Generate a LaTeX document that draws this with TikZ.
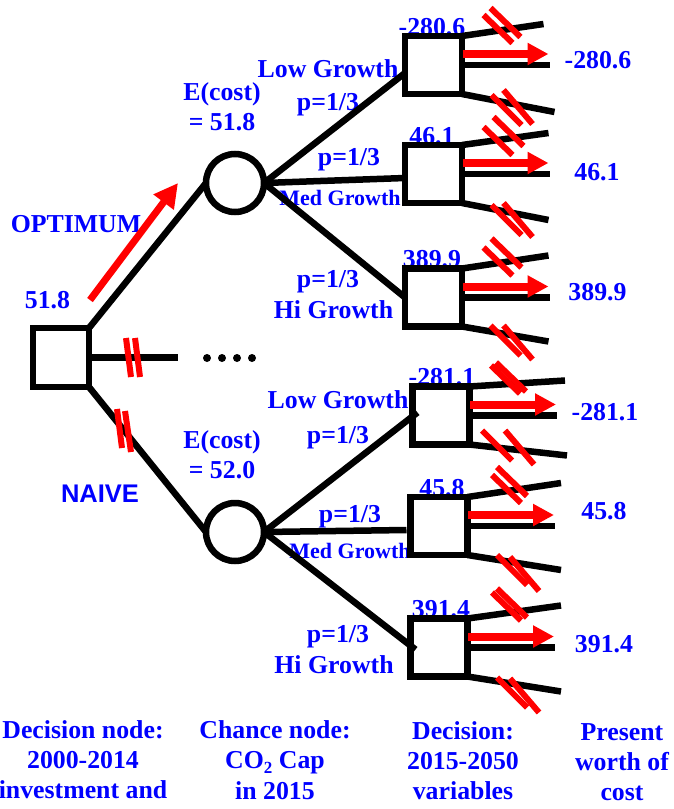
\documentclass[tikz,border=0pt]{standalone}
\usepackage{fontspec}
\setmainfont{Liberation Serif}
\newfontfamily\sansbold{Liberation Sans}
\usetikzlibrary{arrows.meta,calc}
\definecolor{lblue}{RGB}{0,0,255}
\definecolor{lred}{RGB}{255,0,0}
\begin{document}
\begin{tikzpicture}[x=1pt,y=-1pt,
  lbl/.style={text=lblue,font=\fontsize{25.8}{30}\selectfont\bfseries,inner sep=0pt,outer sep=0pt,anchor=base},
  smalllbl/.style={lbl,font=\fontsize{22}{25}\selectfont\bfseries},
  sanslbl/.style={lbl,font=\fontsize{25.5}{30}\selectfont\sansbold\bfseries},
  dbox/.style={draw=black,fill=white,line width=6.5pt,minimum width=57pt,minimum height=58pt,inner sep=0pt,outer sep=0pt},
  cnode/.style={circle,draw=black,fill=white,line width=6.5pt,minimum size=58pt,inner sep=0pt,outer sep=0pt},
  branch/.style={line width=6.5pt,draw=black},
  stub/.style={line width=6.5pt,draw=black},
  bar/.style={line width=6pt,draw=lred},
  redarrow/.style={line width=8pt,draw=lred,-{Triangle[length=21pt,width=21pt]}},
  bigarrow/.style={line width=7pt,draw=lred,-{Triangle[length=24pt,width=24pt]}},
  dot/.style={circle,fill=black,inner sep=0pt,minimum size=8pt}
]
\useasboundingbox (0,0) rectangle (674,809);

% ---------- labels (drawn before boxes so boxes cover their bottoms) ----------
\node[lbl] (v0) at (47.5,308) {51.8};
\node[lbl] (opt) at (76,232) {OPTIMUM};
\node[sanslbl] (naive) at (100,502) {NAIVE};
\node[lbl] (ec1) at (222,100) {E(cost)};
\node[lbl] (ev1) at (222,130) {= 51.8};
\node[lbl] (ec2) at (222,448) {E(cost)};
\node[lbl] (ev2) at (222,478) {= 52.0};

\node[lbl] (lg1) at (328,77) {Low Growth};
\node[lbl] (p11) at (328,110) {p=1/3};
\node[lbl] (p12) at (349,165) {p=1/3};
\node[smalllbl] (mg1) at (340,205) {Med Growth};
\node[lbl] (p13) at (328,287) {p=1/3};
\node[lbl] (hg1) at (333.5,318) {Hi Growth};

\node[lbl] (lg2) at (338,408) {Low Growth};
\node[lbl] (p21) at (338,443) {p=1/3};
\node[lbl] (p22) at (350,522) {p=1/3};
\node[smalllbl] (mg2) at (350,558) {Med Growth};
\node[lbl] (p23) at (338,642) {p=1/3};
\node[lbl] (hg2) at (334,673) {Hi Growth};

\node[lbl] (a1) at (432,35) {-280.6};
\node[lbl] (a2) at (432,144) {46.1};
\node[lbl] (a3) at (432,267.5) {389.9};
\node[lbl] (a4) at (442,385.5) {-281.1};
\node[lbl] (a5) at (442,496) {45.8};
\node[lbl] (a6) at (441,617.5) {391.4};

\node[lbl] (r1) at (598,68) {-280.6};
\node[lbl] (r2) at (597,180) {46.1};
\node[lbl] (r3) at (597.5,300) {389.9};
\node[lbl] (r4) at (605,420) {-281.1};
\node[lbl] (r5) at (604,519) {45.8};
\node[lbl] (r6) at (604,652) {391.4};

% captions
\node[lbl] (k11) at (83,738) {Decision node:};
\node[lbl] (k12) at (83,768) {2000-2014};
\node[lbl] (k13) at (83,798) {investment and};
\node[lbl] (k21) at (275,738) {Chance node:};
\node[lbl] (k22) at (275,768) {CO\raisebox{-5pt}{\fontsize{17}{17}\selectfont 2} Cap};
\node[lbl] (k23) at (275,799) {in 2015};
\node[lbl] (k31) at (463,739) {Decision:};
\node[lbl] (k32) at (463,769) {2015-2050};
\node[lbl] (k33) at (463,799) {variables};
\node[lbl] (k41) at (622,740) {Present};
\node[lbl] (k42) at (622,770) {worth of};
\node[lbl] (k43) at (622,800) {cost};

% ---------- nodes ----------
\node[dbox,minimum width=56pt,minimum height=59pt] (r) at (61,357.5) {};
\node[cnode] (c1) at (235,183) {};
\node[cnode] (c2) at (235,532) {};
\node[dbox] (b1) at (433.5,65) {};
\node[dbox] (b2) at (433.5,174) {};
\node[dbox] (b3) at (433.5,297.5) {};
\node[dbox] (b4) at (441,415.5) {};
\node[dbox] (b5) at (439,526) {};
\node[dbox] (b6) at (439,647.5) {};
\coordinate (mEnd) at (178,357.5);
\node[dot] (d1) at (207,358) {};
\node[dot] (d2) at (222,358) {};
\node[dot] (d3) at (237,358) {};
\node[dot] (d4) at (252,358) {};

% ---------- connectors ----------
\draw[branch] (r.north east) -- (c1.west);
\draw[branch] (r.east) -- (mEnd);
\draw[branch] (r.south east) -- (c2.west);
\draw[branch] (c1.east) -- ([yshift=-8pt]b1.west);
\draw[branch] (c1.east) -- ([yshift=-4pt]b2.west);
\draw[branch] (c1.east) -- (b3.west);
\draw[branch] (c2.east) -- ([xshift=5pt,yshift=3pt]b4.west);
\draw[branch] (c2.east) -- ([xshift=-4pt,yshift=-4pt]b5.west);
\draw[branch] (c2.east) -- ([xshift=5pt,yshift=-2pt]b6.west);

% red marks on the left
\draw[bigarrow] (90,300) -- (178,183);
\draw[bar] (126,338) -- (131,377);
\draw[bar] (135,338) -- (140,377);
\draw[bar] (117,409) -- (122,448);
\draw[bar] (125,411) -- (131,452);

% ---------- right fans ----------
\foreach \b/\tx/\ty/\bx/\by/\ax/\ay/\sx/\sy/\ux/\uy/\vx/\vy in {
  b1/110/-41/121/47/50/-50/57/-57/58/30/70/25,
  b2/115/-41/115/46/50/-47/60/-57/58/31/70/29,
  b3/115/-42/115/44/50/-50/58/-59/57/28/70/28,
  b4/124/-35/126/40/50/-50/55/-53/41/15/64/15,
  b5/122/-43/122/44/53/-51/58/-59/58/29/71/31,
  b6/122/-42/122/44/53/-55/58/-59/58/30/71/31}
{
  \draw[stub] (\b.north east) -- ($(\b.center)+(\tx,\ty)$);
  \draw[stub] (\b.east) -- ($(\b.center)+(116,0)$);
  \draw[stub] (\b.south east) -- ($(\b.center)+(\bx,\by)$);
  \draw[redarrow] ($(\b.center)+(29,-11)$) -- ($(\b.center)+(115,-11)$);
  \draw[bar] ($(\b.center)+(\ax,\ay)$) -- ++(29,28);
  \draw[bar] ($(\b.center)+(\sx,\sy)$) -- ++(30,29);
  \draw[bar] ($(\b.center)+(\ux,\uy)$) -- ++(30,30);
  \draw[bar] ($(\b.center)+(\vx,\vy)$) -- ++(29,34);
}
\end{tikzpicture}
\end{document}
